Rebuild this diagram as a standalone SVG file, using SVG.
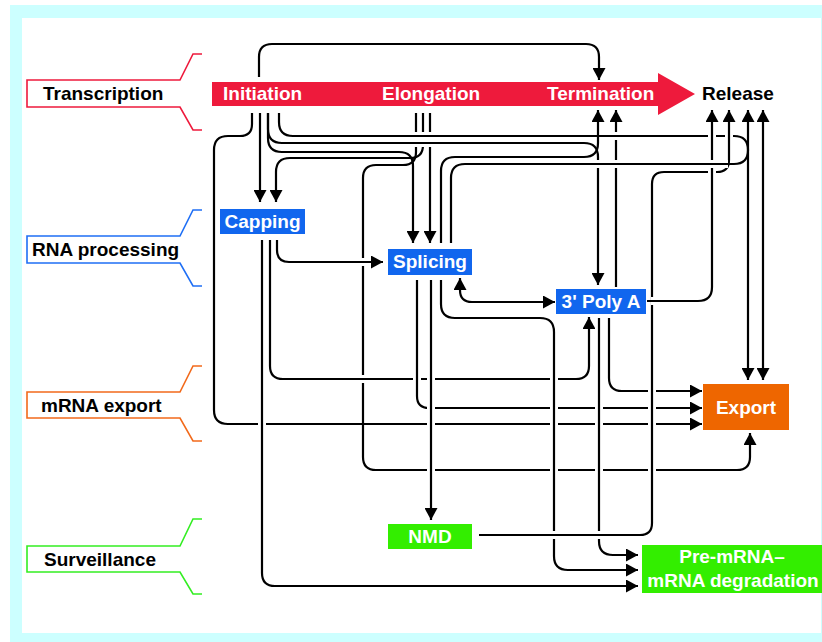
<svg xmlns="http://www.w3.org/2000/svg" width="822" height="642" viewBox="0 0 822 642">
<style>
.t{font-family:"Liberation Sans",Arial,sans-serif;font-weight:bold;font-size:19px}
.w{fill:#fff}
.k{fill:#000}
.br{fill:none;stroke-width:1.6}
.h{fill:none;stroke:#fff;stroke-width:8}
.l{fill:none;stroke:#000;stroke-width:2.2;marker-end:url(#ah)}
.d{marker-start:url(#ah)}
</style>
<defs>
<marker id="ah" viewBox="0 0 12 13" markerWidth="12" markerHeight="13" refX="12" refY="6.5" orient="auto-start-reverse" markerUnits="userSpaceOnUse">
<path d="M0,0 L12,6.5 L0,13 z" fill="#000"/>
</marker>
</defs>
<rect x="10" y="5" width="812" height="637" fill="#ccffff"/>
<rect x="22" y="18" width="799" height="615" fill="#fff"/>

<g id="label-transcription">
<polyline class="br" stroke="#ee1a3c" points="202,54 193,54 180,80 27,80 27,107 180,107 193,130 202,130"/>
<text class="t k" x="43" y="100">Transcription</text>
</g>
<g id="label-rna-processing">
<polyline class="br" stroke="#1f6ff5" points="202,210 193,210 180,236 27,236 27,263 180,263 193,286 202,286"/>
<text class="t k" x="32" y="256">RNA processing</text>
</g>
<g id="label-mrna-export">
<polyline class="br" stroke="#f26a1b" points="202,366 193,366 180,392 27,392 27,418 180,418 193,441 202,441"/>
<text class="t k" x="41" y="412">mRNA export</text>
</g>
<g id="label-surveillance">
<polyline class="br" stroke="#33ee22" points="202,519 193,519 180,546 27,546 27,572 180,572 193,594 202,594"/>
<text class="t k" x="44" y="566">Surveillance</text>
</g>

<g id="transcription-band">
<polygon fill="#ee1a3c" points="212,82 658,82 658,73 695,94 658,115 658,106 212,106"/>
</g>
<g id="initiation"><text class="t w" x="223" y="100">Initiation</text></g>
<g id="elongation"><text class="t w" x="382" y="100">Elongation</text></g>
<g id="termination"><text class="t w" x="547" y="100">Termination</text></g>
<g id="release"><text class="t k" x="702" y="100">Release</text></g>

<g id="capping">
<rect x="220" y="209" width="85" height="25" fill="#1166ee"/>
<text class="t w" x="262.5" y="228" text-anchor="middle">Capping</text>
</g>
<g id="splicing">
<rect x="388" y="249" width="84" height="26" fill="#1166ee"/>
<text class="t w" x="430" y="268" text-anchor="middle">Splicing</text>
</g>
<g id="polya">
<rect x="556" y="289" width="90" height="25" fill="#1166ee"/>
<text class="t w" x="601" y="308" text-anchor="middle">3' Poly A</text>
</g>
<g id="export">
<rect x="703" y="384" width="86" height="46" fill="#ee6600"/>
<text class="t w" x="746" y="414" text-anchor="middle">Export</text>
</g>
<g id="nmd">
<rect x="388" y="524" width="84" height="25" fill="#33ee00"/>
<text class="t w" x="430" y="543" text-anchor="middle">NMD</text>
</g>
<g id="degradation">
<rect x="642" y="545" width="180" height="48" fill="#33ee00"/>
<text class="t w" x="732" y="563" text-anchor="middle">Pre-mRNA–</text>
<text class="t w" x="733" y="587" text-anchor="middle">mRNA degradation</text>
</g>

<g id="connectors">
<path class="l" d="M259,77 V57 Q259,44 272,44 H586 Q599,44 599,57 V80"/>
<path class="l" d="M616,287 V110"/>
<path class="l" d="M260,113 V202"/>
<path class="l" d="M430,113 V243"/>
<path class="l" d="M423,113 V145 Q423,158 410,158 H290 Q276,158 276,172 V202"/>
<path class="l" d="M416,113 V152 Q416,165 403,165 H376 Q363,165 363,178 V457 Q363,470 376,470 H737 Q750,470 750,457 V433"/>
<path class="l" d="M268,113 V138 Q268,152 282,152 H399 Q413,152 413,166 V243"/>
<path class="h" d="M284,143 H582"/>
<path class="l" d="M268,113 V129 Q268,143 282,143 H584 Q598,143 598,157 V285"/>
<path class="h" d="M295,136 H732"/>
<path class="l" d="M279,113 V122 Q279,136 293,136 H734 Q748,136 748,150 V380"/>
<path class="l" d="M252,113 V124 Q252,136 240,136 H228 Q214,136 214,150 V410 Q214,424 228,424 H702"/>
<path class="h" d="M283,379 H576"/>
<path class="l" d="M270,240 V366 Q270,379 283,379 H576 Q589,379 589,366 V317"/>
<path class="h" d="M289,262 H380"/>
<path class="l" d="M277,240 V250 Q277,262 289,262 H383"/>
<path class="h" d="M262,244 V573"/>
<path class="l" d="M262,240 V573 Q262,586 275,586 H638"/>
<path class="h" d="M417,284 V396 Q417,408 429,408 H700"/>
<path class="l" d="M417,280 V396 Q417,408 429,408 H702"/>
<path class="h" d="M431,284 V516"/>
<path class="l" d="M431,280 V520"/>
<path class="h" d="M441,284 V304 Q441,318 455,318 H540 Q554,318 554,332 V556 Q554,570 568,570 H636"/>
<path class="l" d="M441,280 V304 Q441,318 455,318 H540 Q554,318 554,332 V556 Q554,570 568,570 H638"/>
<path class="h" d="M599,322 V541"/>
<path class="l" d="M599,318 V541 Q599,555 613,555 H638"/>
<path class="h" d="M609,322 V378 Q609,391 622,391 H700"/>
<path class="l" d="M609,318 V378 Q609,391 622,391 H702"/>
<path class="l d" d="M460,278 V290 Q460,302 472,302 H555"/>
<path class="h" d="M441,240 V171 Q441,157 455,157 H580"/>
<path class="l" d="M441,243 V171 Q441,157 455,157 H584 Q598,157 598,143 V110"/>
<path class="h" d="M483,535 H640 Q652,535 652,523 V184 Q652,172 664,172 H717 Q729,172 729,160 V114"/>
<path class="l" d="M479,535 H640 Q652,535 652,523 V184 Q652,172 664,172 H717 Q729,172 729,160 V110"/>
<path class="h" d="M651,301 H698 Q712,301 712,287 V114"/>
<path class="l" d="M647,301 H698 Q712,301 712,287 V110"/>
<path class="h" d="M451,240 V178 Q451,164 465,164 H728"/>
<path class="l" d="M451,243 V178 Q451,164 465,164 H734 Q748,164 748,150 V110"/>
<path class="l d" d="M763,110 V380"/>
</g>
</svg>
